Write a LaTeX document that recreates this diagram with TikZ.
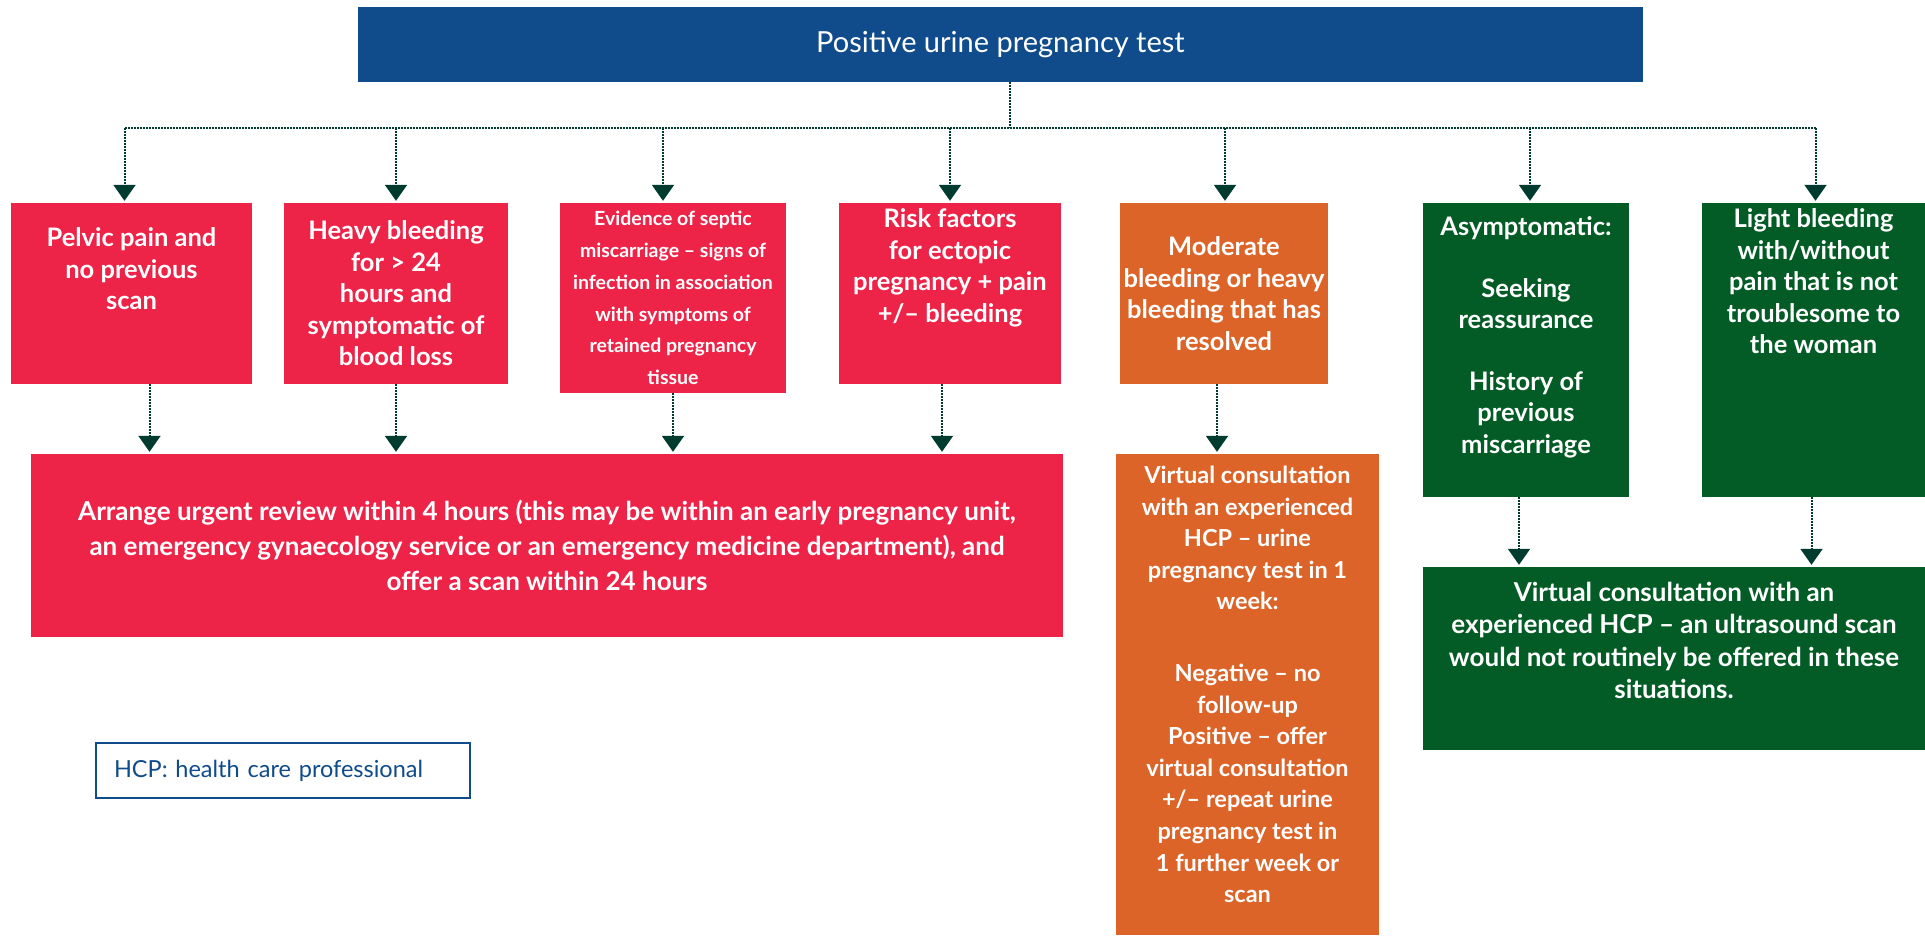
\documentclass[tikz,border=0pt]{standalone}
\usepackage{fontspec}
\setmainfont{Lato}
\usepackage{tikz}
\usetikzlibrary{arrows.meta,calc}
\definecolor{topblue}{RGB}{16,76,139}
\definecolor{alertred}{RGB}{237,35,71}
\definecolor{midorange}{RGB}{220,100,40}
\definecolor{calmgreen}{RGB}{3,91,37}
\definecolor{linkgreen}{RGB}{0,59,48}
\newcommand{\boxtext}[4]{\parbox[c][#2pt][#3]{#1pt}{\centering #4}}

\begin{document}
\begin{tikzpicture}[x=1pt,y=-1pt,
box/.style={inner sep=0pt,text=white,font=\bfseries\fontsize{25.5}{31.5}\selectfont},
link/.style={draw=linkgreen,line width=2pt,densely dotted},
downarrow/.style={-{Triangle[width=22pt,length=16pt]},shorten >=2pt}]
\useasboundingbox (0,0) rectangle (1925,935);
\node[box,fill=topblue,font=\fontsize{29}{30}\selectfont] (top) at (1000.5,44.5) {\boxtext{1285}{75}{c}{Positive urine pregnancy test}};
\node[box,fill=alertred] (pelvic) at (131.5,293.5) {\boxtext{241}{181}{t}{\vspace*{25pt}Pelvic pain and\\no previous\\scan}};
\node[box,fill=alertred] (heavy) at (396,293.5) {\boxtext{224}{181}{c}{Heavy bleeding\\for > 24\\hours and\\symptomatic of\\blood loss}};
\node[box,fill=alertred,font=\bfseries\fontsize{19.5}{31.7}\selectfont] (septic) at (673,298) {\boxtext{226}{190}{c}{Evidence of septic\\miscarriage -- signs of\\infection in association\\with symptoms of\\retained pregnancy\\tissue}};
\node[box,fill=alertred] (risk) at (950,293.5) {\boxtext{222}{181}{t}{\vspace*{6pt}Risk factors\\for ectopic\\pregnancy + pain\\+/-- bleeding}};
\node[box,fill=midorange] (moderate) at (1224,293.5) {\boxtext{208}{181}{c}{Moderate\\bleeding or heavy\\bleeding that has\\resolved}};
\node[box,fill=calmgreen] (asym) at (1526,350) {\boxtext{206}{294}{t}{\vspace*{14pt}Asymptomatic:\\[30pt]Seeking\\reassurance\\[30pt]History of\\previous\\miscarriage}};
\node[box,fill=calmgreen] (light) at (1813.5,350) {\boxtext{223}{294}{t}{\vspace*{6pt}Light bleeding\\with/without\\pain that is not\\troublesome to\\the woman}};
\node[box,fill=alertred,font=\bfseries\fontsize{26}{35}\selectfont] (urgent) at (547,545.5) {\boxtext{1032}{183}{c}{Arrange urgent review within 4 hours (this may be within an early pregnancy unit,\\an emergency gynaecology service or an emergency medicine department), and\\offer a scan within 24 hours}};
\node[box,fill=midorange,font=\bfseries\fontsize{23.5}{31.6}\selectfont] (virtual) at (1247.5,694.5) {\boxtext{263}{481}{t}{\vspace*{12pt}Virtual consultation\\with an experienced\\HCP -- urine\\pregnancy test in 1\\week:\\[40pt]Negative -- no\\follow-up\\Positive -- offer\\virtual consultation\\+/-- repeat urine\\pregnancy test in\\1 further week or\\scan}};
\node[box,fill=calmgreen,font=\bfseries\fontsize{26}{32.5}\selectfont] (noscan) at (1674,658.5) {\boxtext{502}{183}{t}{\vspace*{15pt}Virtual consultation with an\\experienced HCP -- an ultrasound scan\\would not routinely be offered in these\\situations.}};
\node[draw=topblue,line width=2pt,fill=white,text=topblue,font=\fontsize{23.5}{25}\selectfont,minimum width=374pt,minimum height=55pt,text width=338pt,inner xsep=18pt,align=left] (hcp) at (283,770.5) {HCP: health care professional};
\coordinate (bus) at (1010,128);
\draw[link] ([xshift=9.5pt]top.south) -- (bus);
\draw[link] ($(bus -| pelvic)+(-7,0)$) -- ($(bus -| light)+(2,0)$);
\foreach \n/\dx in {pelvic/-7,heavy/0,septic/-10,risk/0,moderate/1,asym/4,light/2}
\draw[link,downarrow] ($(bus -| \n)+(\dx,0)$) -- ($(\n.north)+(\dx,0)$);
\foreach \n/\dx in {pelvic/18,heavy/0,septic/0,risk/-8}
\draw[link,downarrow] ($(\n.south)+(\dx,0)$) -- ($(\n.south |- urgent.north)+(\dx,0)$);
\draw[link,downarrow] ($(moderate.south)+(-7,0)$) -- ($(moderate.south |- virtual.north)+(-7,0)$);
\foreach \n/\dx in {asym/-7,light/-2}
\draw[link,downarrow] ($(\n.south)+(\dx,0)$) -- ($(\n.south |- noscan.north)+(\dx,0)$);
\end{tikzpicture}
\end{document}
